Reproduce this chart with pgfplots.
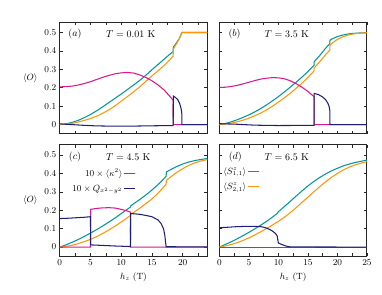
\documentclass[border=0pt]{standalone}
\usepackage{pgfplots}
\pgfplotsset{compat=1.18}
\usepgfplotslibrary{groupplots}
\usetikzlibrary{calc}
\definecolor{cteal}{RGB}{0,150,155}
\definecolor{corange}{RGB}{255,150,10}
\definecolor{cmag}{RGB}{215,25,140}
\definecolor{cnavy}{RGB}{30,30,120}
\begin{document}
\begin{tikzpicture}
\begin{groupplot}[
  group style={group size=2 by 2, horizontal sep=12bp, vertical sep=11bp,
    xticklabels at=edge bottom, yticklabels at=edge left,
    xlabels at=edge bottom, ylabels at=edge left},
  scale only axis, width=147bp, height=111bp,
  ymin=-0.05, ymax=0.555,
  ytick={0,0.1,0.2,0.3,0.4,0.5},
  xtick={0,5,10,15,20,25}, minor x tick num=1,
  tick align=inside, major tick length=3bp, minor tick length=3bp,
  axis line style={line width=0.9pt, black!85},
  every tick/.style={black!85, line width=0.6pt},
  tick label style={font=\small},
  xlabel={$h_z$ (T)}, ylabel={$\langle O\rangle$},
  every axis y label/.style={at={(ticklabel cs:0.5)}, anchor=east, rotate=0},
  label style={font=\small},
  every axis plot/.append style={line width=1.05pt, no markers},
  legend style={draw=none, fill=none, font=\small, row sep=4bp,
    nodes={inner sep=1.5bp}},
  legend image code/.code={\draw[#1, line width=1.1pt] (0cm,0cm) -- (0.37cm,0cm);},
]
%(a)
\nextgroupplot[xmin=0, xmax=24]
\addplot[cteal] coordinates {(0,0) (1,0.004) (2,0.012) (3,0.023) (4,0.038) (5,0.055) (6,0.075) (7,0.097) (8,0.12) (9,0.143) (10,0.166) (11,0.19) (12,0.215) (13,0.24) (14,0.268) (15,0.298) (16,0.327) (17,0.356) (18,0.385) (18.45,0.397) (18.47,0.42) (19,0.445) (19.5,0.47) (19.85,0.5) (24,0.5)};
\addplot[corange] coordinates {(0,0) (1,0.002) (2,0.007) (3,0.014) (4,0.023) (5,0.033) (6,0.046) (7,0.062) (8,0.08) (9,0.102) (10,0.127) (11,0.152) (12,0.178) (13,0.205) (14,0.235) (15,0.265) (16,0.293) (17,0.322) (18,0.355) (18.45,0.372) (18.47,0.41) (19,0.44) (19.5,0.47) (19.87,0.5) (24,0.5)};
\addplot[cmag] coordinates {(0,0.205) (1,0.206) (2,0.209) (3,0.215) (4,0.223) (5,0.233) (6,0.245) (7,0.257) (8,0.267) (9,0.276) (10,0.281) (11,0.283) (12,0.28) (13,0.27) (14,0.256) (15,0.238) (16,0.215) (17,0.187) (18,0.15) (18.45,0.132) (18.47,0) (24,0)};
\addplot[cnavy] coordinates {(0,0.004) (2,0.0) (4,-0.004) (6,-0.007) (8,-0.008) (12,-0.008) (16,-0.006) (18.45,-0.005) (18.47,0.155) (18.8,0.148) (19.2,0.135) (19.5,0.115) (19.75,0.085) (19.85,0.06) (19.87,0) (24,0)};
\node[font=\normalsize] at (rel axis cs:0.103,0.895) {$(a)$};
\node[font=\normalsize, anchor=west] at (rel axis cs:0.29,0.895) {$T=0.01$~K};
%(b)
\nextgroupplot[xmin=0, xmax=25]
\addplot[cteal] coordinates {(0,0) (1,0.006) (2,0.015) (3,0.026) (4,0.039) (5,0.053) (6,0.069) (7,0.087) (8,0.107) (9,0.129) (10,0.152) (11,0.177) (12,0.203) (13,0.23) (14,0.258) (15,0.288) (16.05,0.322) (16.07,0.342) (17,0.375) (18,0.415) (18.72,0.44) (18.74,0.458) (19,0.464) (20,0.478) (21,0.487) (22,0.493) (23,0.496) (24,0.498) (25,0.499)};
\addplot[corange] coordinates {(0,0) (1,0.003) (2,0.008) (3,0.015) (4,0.024) (5,0.035) (6,0.048) (7,0.063) (8,0.08) (9,0.1) (10,0.122) (11,0.145) (12,0.17) (13,0.197) (14,0.225) (15,0.256) (16.05,0.292) (16.07,0.308) (17,0.342) (18,0.38) (18.72,0.405) (18.74,0.43) (19,0.44) (20,0.463) (21,0.478) (22,0.488) (23,0.494) (24,0.497) (25,0.499)};
\addplot[cmag] coordinates {(0,0.202) (1,0.203) (2,0.207) (3,0.213) (4,0.221) (5,0.23) (6,0.239) (7,0.247) (8,0.252) (9,0.255) (10,0.254) (11,0.249) (12,0.238) (13,0.222) (14,0.203) (15,0.18) (15.5,0.166) (16.05,0.152) (16.07,0) (25,0)};
\addplot[cnavy] coordinates {(0,0.005) (3,0.002) (6,-0.003) (10,-0.005) (16.05,-0.004) (16.07,0.169) (16.8,0.163) (17.5,0.15) (18,0.135) (18.4,0.115) (18.6,0.098) (18.72,0.075) (18.74,0) (25,0)};
\node[font=\normalsize] at (rel axis cs:0.103,0.895) {$(b)$};
\node[font=\normalsize, anchor=west] at (rel axis cs:0.282,0.895) {$T=3.5$~K};
%(c)
\nextgroupplot[xmin=0, xmax=24, legend cell align=right, legend plot pos=right,
  legend style={at={(rel axis cs:0.535,0.82)}, anchor=north east}]
\addplot[cteal, forget plot] coordinates {(0,0) (1,0.012) (2,0.026) (3,0.041) (4,0.058) (5,0.076) (6,0.095) (7,0.115) (8,0.136) (9,0.158) (10,0.182) (11,0.206) (11.5,0.217) (11.55,0.224) (12,0.235) (13,0.258) (14,0.283) (15,0.31) (16,0.34) (17,0.373) (17.3,0.385) (17.35,0.408) (18,0.42) (19,0.437) (20,0.451) (21,0.462) (22,0.47) (23,0.476) (24,0.481)};
\addplot[corange, forget plot] coordinates {(0,0) (1,0.004) (2,0.01) (3,0.019) (4,0.03) (5,0.042) (6,0.057) (7,0.074) (8,0.093) (9,0.114) (10,0.136) (11,0.16) (11.5,0.172) (11.55,0.177) (12,0.188) (13,0.211) (14,0.236) (15,0.262) (16,0.293) (17,0.33) (17.3,0.343) (17.35,0.363) (18,0.38) (19,0.405) (20,0.426) (21,0.444) (22,0.458) (23,0.468) (24,0.475)};
\addplot[cmag] coordinates {(0,0) (5.0,0) (5.02,0.205) (6,0.21) (7,0.213) (8,0.214) (9,0.212) (10,0.205) (11,0.196) (11.5,0.19) (11.52,0) (24,0)};
\addlegendentry{$10\times\langle\kappa^2\rangle$}
\addplot[cnavy] coordinates {(0,0.155) (1,0.156) (2,0.158) (3,0.16) (4,0.162) (5,0.165) (5.02,0.012) (7,0.009) (9,0.006) (11.5,0.003) (11.52,0.182) (12,0.181) (13,0.178) (14,0.172) (15,0.165) (16,0.147) (16.5,0.127) (16.9,0.097) (17.1,0.062) (17.2,0.03) (17.3,0.002) (24,0.001)};
\addlegendentry{$10\times Q_{x^2-y^2}$}
\node[font=\normalsize] at (rel axis cs:0.103,0.89) {$(c)$};
\node[font=\normalsize, anchor=west] at (rel axis cs:0.29,0.89) {$T=4.5$~K};
%(d)
\nextgroupplot[xmin=0, xmax=25, legend cell align=left, legend plot pos=right,
  legend style={at={(rel axis cs:-0.005,0.83)}, anchor=north west}]
\addplot[cteal] coordinates {(0,0) (1,0.014) (2,0.029) (3,0.045) (4,0.062) (5,0.08) (6,0.099) (7,0.119) (8,0.14) (9,0.163) (9.8,0.183) (10,0.192) (11,0.22) (12,0.248) (13,0.277) (14,0.305) (15,0.332) (16,0.356) (17,0.378) (18,0.397) (19,0.414) (20,0.428) (21,0.441) (22,0.451) (23,0.459) (24,0.466) (25,0.472)};
\addlegendentry{$\langle S^z_{1,1}\rangle$}
\addplot[corange] coordinates {(0,0) (1,0.006) (2,0.014) (3,0.024) (4,0.036) (5,0.05) (6,0.066) (7,0.083) (8,0.101) (9,0.12) (10,0.14) (11,0.162) (12,0.187) (13,0.214) (14,0.243) (15,0.271) (16,0.3) (17,0.328) (18,0.355) (19,0.379) (20,0.4) (21,0.419) (22,0.434) (23,0.446) (24,0.456) (25,0.465)};
\addlegendentry{$\langle S^z_{2,1}\rangle$}
\addplot[cmag, forget plot] coordinates {(0,0) (25,0)};
\addplot[cnavy, forget plot] coordinates {(0,0.105) (1,0.107) (2,0.109) (3,0.111) (4,0.112) (5,0.113) (6,0.113) (7,0.111) (7.5,0.108) (8,0.103) (8.5,0.096) (9,0.087) (9.5,0.074) (9.8,0.06) (9.9,0.04) (10,0.022) (10.5,0.015) (11,0.009) (11.5,0.004) (12,0.001) (25,0)};
\node[font=\normalsize] at (rel axis cs:0.108,0.89) {$(d)$};
\node[font=\normalsize, anchor=west] at (rel axis cs:0.282,0.89) {$T=6.5$~K};
\end{groupplot}
\path[use as bounding box] ($(group c1r1.north west)+(-59.5bp,22.3bp)$) rectangle ($(group c2r2.south east)+(15bp,-38bp)$);
\end{tikzpicture}
\end{document}
